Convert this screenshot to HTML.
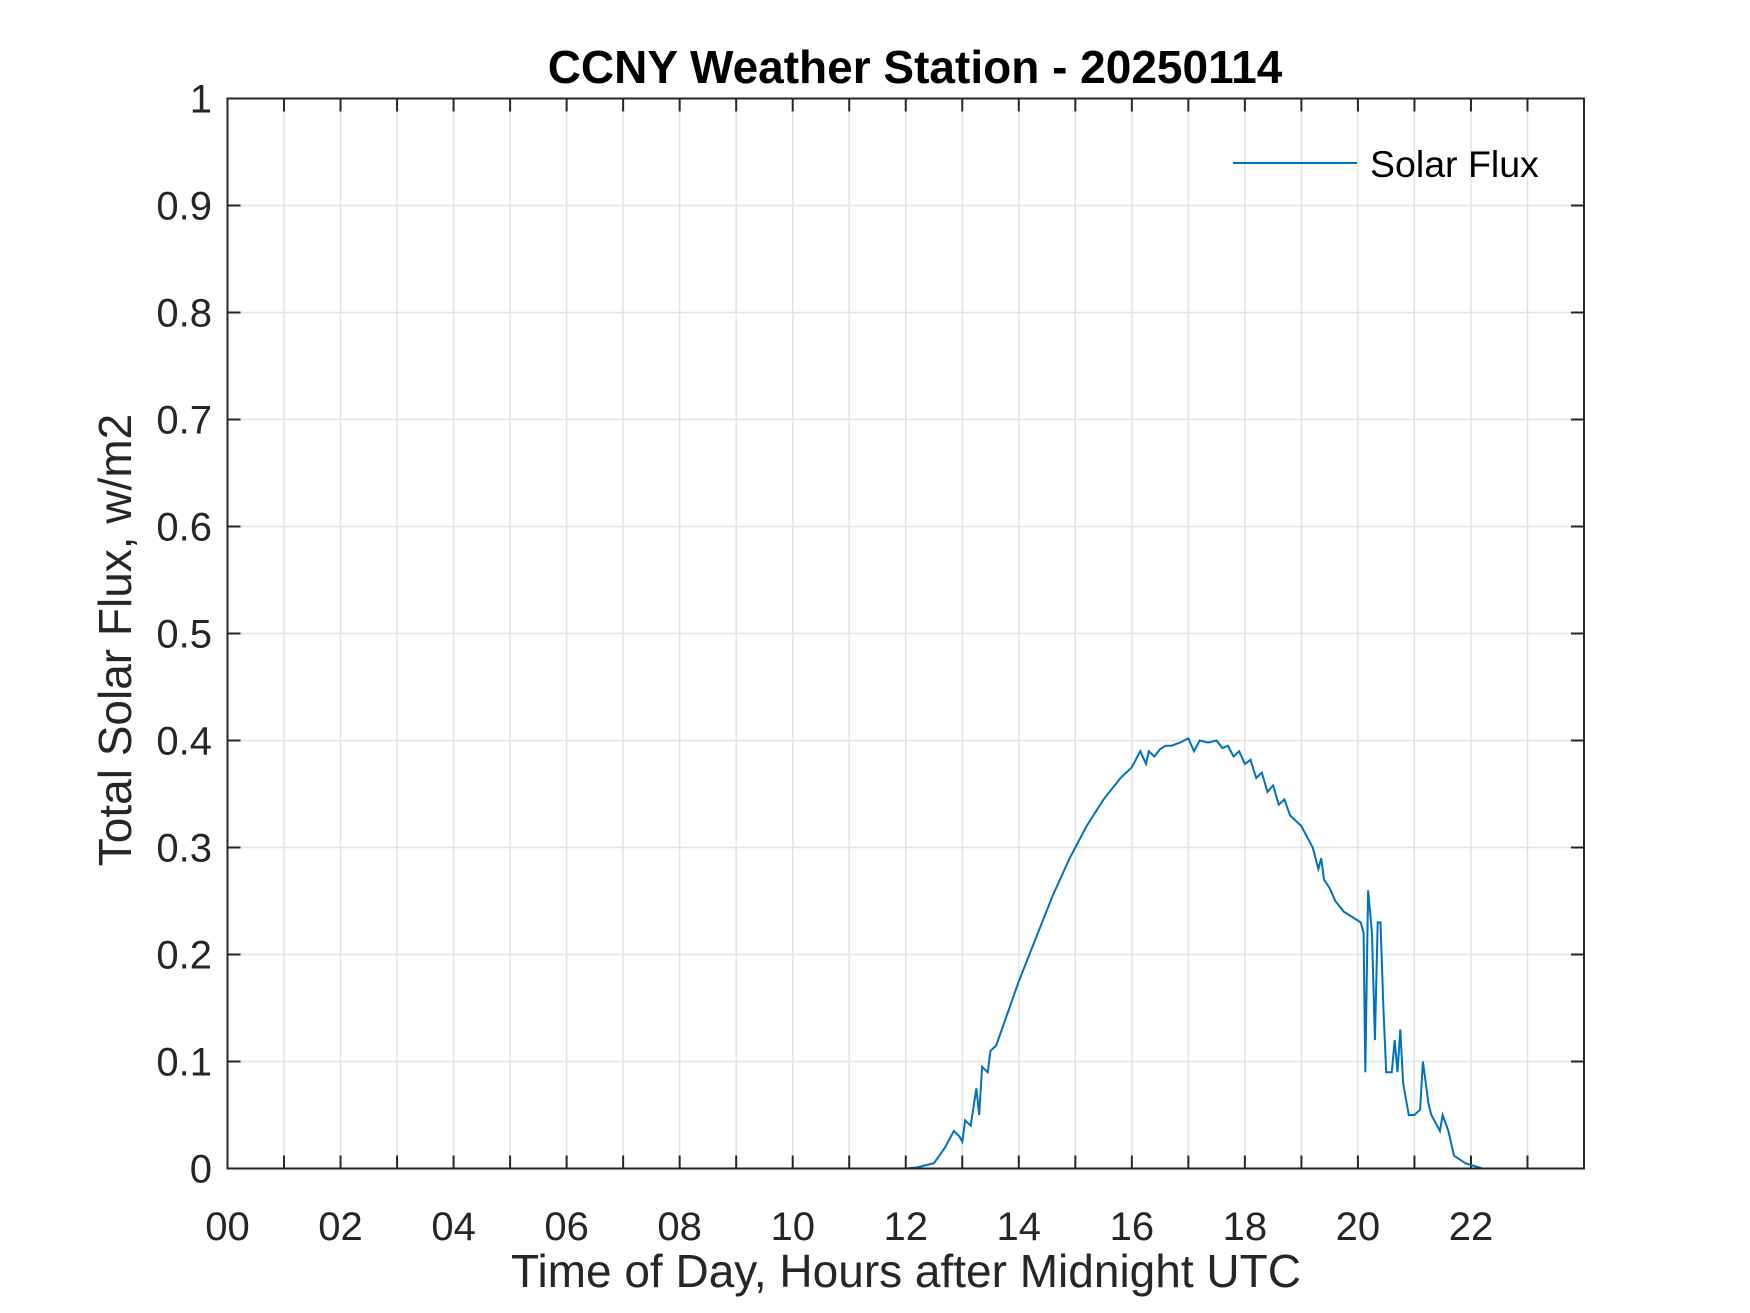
<!DOCTYPE html>
<html><head><meta charset="utf-8"><style>
body{margin:0;background:#fff}
svg{display:block;font-family:"Liberation Sans",Arial,sans-serif}
</style></head><body>
<svg id="chart" width="1750" height="1313" viewBox="0 0 1750 1313">
<rect width="1750" height="1313" fill="#fff"/>
<g id="grid"></g>
<g id="ticks"></g>
<g id="labels"></g>
<path id="series" fill="none" stroke="#0072BD" stroke-width="2"/>
<rect x="227.5" y="98.5" width="1356.5" height="1070" fill="none" stroke="#262626" stroke-width="2"/>
<text x="915" y="83" text-anchor="middle" font-size="46" font-weight="bold" fill="#000">CCNY Weather Station - 20250114</text>
<text x="906" y="1287" text-anchor="middle" font-size="46" fill="#262626">Time of Day, Hours after Midnight UTC</text>
<text transform="translate(131,640) rotate(-90)" text-anchor="middle" font-size="46" fill="#262626">Total Solar Flux, w/m2</text>
<g>
<line x1="1233" y1="163" x2="1357" y2="163" stroke="#0072BD" stroke-width="2"/>
<text x="1370" y="177" font-size="37.5" fill="#000">Solar Flux</text>
</g>
</svg>
<script>
const hours=[0,12,12.2,12.5,12.7,12.85,12.95,13.0,13.05,13.15,13.25,13.3,13.35,13.45,13.5,13.6,13.8,14.0,14.3,14.6,14.9,15.2,15.5,15.8,16.0,16.15,16.25,16.3,16.4,16.5,16.6,16.7,16.85,17.0,17.1,17.2,17.35,17.5,17.6,17.7,17.8,17.9,18.0,18.1,18.2,18.3,18.4,18.5,18.6,18.7,18.8,19.0,19.1,19.2,19.3,19.35,19.4,19.5,19.6,19.75,19.9,20.05,20.1,20.13,20.18,20.25,20.3,20.35,20.4,20.45,20.5,20.6,20.65,20.7,20.75,20.8,20.9,21.0,21.1,21.15,21.25,21.3,21.45,21.5,21.6,21.7,21.9,22.2,24];
const flux=[0,0,0.001,0.005,0.02,0.035,0.03,0.025,0.045,0.04,0.075,0.05,0.095,0.09,0.11,0.115,0.145,0.175,0.215,0.255,0.29,0.32,0.345,0.365,0.375,0.39,0.378,0.39,0.385,0.392,0.395,0.395,0.398,0.402,0.39,0.4,0.398,0.4,0.393,0.395,0.385,0.39,0.378,0.382,0.365,0.37,0.352,0.358,0.34,0.345,0.33,0.32,0.31,0.3,0.28,0.29,0.27,0.262,0.25,0.24,0.235,0.23,0.22,0.09,0.26,0.22,0.12,0.23,0.23,0.15,0.09,0.09,0.12,0.09,0.13,0.08,0.05,0.05,0.055,0.1,0.06,0.05,0.035,0.05,0.035,0.012,0.005,0,0];
const yTicks=[0,0.1,0.2,0.3,0.4,0.5,0.6,0.7,0.8,0.9,1];
const yTickLabels=["0","0.1","0.2","0.3","0.4","0.5","0.6","0.7","0.8","0.9","1"];
const xTicks=[0,2,4,6,8,10,12,14,16,18,20,22];
const xTickLabels=["00","02","04","06","08","10","12","14","16","18","20","22"];
const L=227.5,R=1584,T=98.5,B=1168.5;
const sx=h=>L+(R-L)*h/24, sy=v=>B-(B-T)*v;
const NS="http://www.w3.org/2000/svg";
const grid=document.getElementById('grid'),ticks=document.getElementById('ticks'),labs=document.getElementById('labels');
function ln(p,x1,y1,x2,y2,c,w,name){const e=document.createElementNS(NS,'line');
e.setAttribute('x1',x1);e.setAttribute('y1',y1);e.setAttribute('x2',x2);e.setAttribute('y2',y2);
e.setAttribute('stroke',c);e.setAttribute('stroke-width',w);


p.appendChild(e);}
function tx(x,y,s,anchor,name){const e=document.createElementNS(NS,'text');
e.setAttribute('x',x);e.setAttribute('y',y);e.setAttribute('text-anchor',anchor);
e.setAttribute('font-size','40');e.setAttribute('fill','#262626');e.textContent=s;


labs.appendChild(e);}
for(let h=1;h<24;h++){const x=sx(h);ln(grid,x,T,x,B,'#e3e3e3',1.5,'x-gridline');
ln(ticks,x,B,x,B-13,'#262626',2,'x-tick');ln(ticks,x,T,x,T+13,'#262626',2,'x-tick-top');}
yTicks.forEach((v,i)=>{const y=sy(v);if(v>0&&v<1)ln(grid,L,y,R,y,'#e3e3e3',1.5,'y-gridline');
ln(ticks,L,y,L+13,y,'#262626',2,'y-tick');ln(ticks,R,y,R-13,y,'#262626',2,'y-tick-right');
tx(212,y+14,yTickLabels[i],'end','y-tick-label');});
xTicks.forEach((h,i)=>tx(sx(h),1240,xTickLabels[i],'middle','x-tick-label'));
document.getElementById('series').setAttribute('d',hours.map((h,i)=>(i?'L':'M')+sx(h).toFixed(1)+','+sy(flux[i]).toFixed(1)).join(''));
</script>
</body></html>
